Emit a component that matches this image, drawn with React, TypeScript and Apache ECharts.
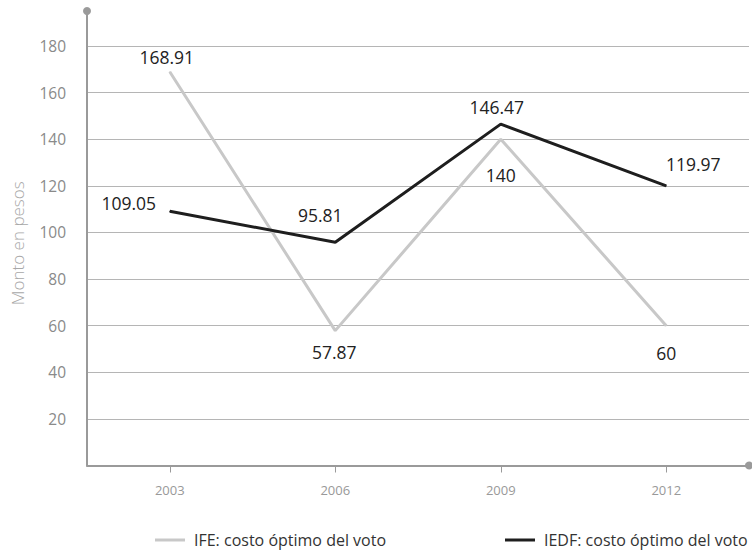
import React, { useEffect, useRef } from "react";
import * as echarts from "echarts";

const years = ["2003", "2006", "2009", "2012"];
const ifeValues = [168.91, 57.87, 140, 60];
const iedfValues = [109.05, 95.81, 146.47, 119.97];
const ifeLabelOffsets = [[-3, -15], [-1, 21], [0, 36], [0, 27]];
const iedfLabelOffsets = [[-41, -8], [-15, -27], [-4, -17], [27, -22]];
const seriesNames = ["IFE: costo óptimo del voto", "IEDF: costo óptimo del voto"];

const FONT = "'Open Sans', 'Noto Sans', sans-serif";

export default function App() {
  const ref = useRef<HTMLDivElement>(null);
  useEffect(() => {
    if (!ref.current) return;
    const chart = echarts.init(ref.current, undefined, { renderer: "svg" });
    const mk = (vals: number[], offs: number[][]) =>
      vals.map((v, i) => ({
        value: v,
        label: { offset: offs[i] },
      }));
    const labelStyle = {
      show: true,
      position: "inside",
      color: "#222",
      fontSize: 17.5,
      fontFamily: FONT,
      formatter: (p: any) => String(p.value),
    };
    const legendBase = {
      bottom: 1,
      icon: "rect",
      itemWidth: 30,
      itemHeight: 3,
      width: 400,
      textStyle: { color: "#333", fontSize: 16, fontFamily: FONT, padding: [0, 0, 0, 4] },
    };
    chart.setOption({
      animation: false,
      textStyle: { fontFamily: FONT },
      grid: { left: 87, top: 11, width: 662, height: 454.5, containLabel: false },
      legend: [
        { ...legendBase, left: 150, data: [seriesNames[0]] },
        { ...legendBase, left: 500, data: [seriesNames[1]] },
      ],
      xAxis: {
        type: "category",
        data: years,
        boundaryGap: true,
        axisLine: {
          show: true,
          symbol: ["none", "circle"],
          symbolSize: [8, 8],
          lineStyle: { color: "#9a9a9a", width: 2 },
        },
        axisTick: { show: true, alignWithLabel: true, length: 7, lineStyle: { color: "#9a9a9a" } },
        axisLabel: { color: "#999", fontSize: 13, margin: 18, fontFamily: FONT },
        splitLine: { show: false },
      },
      yAxis: {
        type: "value",
        min: 0,
        max: 195,
        interval: 20,
        name: "Monto en pesos",
        nameLocation: "middle",
        nameGap: 61,
        nameTextStyle: {
          color: "#a8a8a8",
          fontSize: 17,
          fontWeight: 300,
          fontFamily: FONT,
          padding: [0, 10, 0, 0],
        },
        axisLine: {
          show: true,
          symbol: ["none", "circle"],
          symbolSize: [8, 8],
          lineStyle: { color: "#9a9a9a", width: 2 },
        },
        axisTick: { show: false },
        axisLabel: {
          color: "#8a8a8a",
          fontSize: 15.5,
          margin: 21,
          showMinLabel: false,
          showMaxLabel: false,
          fontFamily: FONT,
        },
        splitLine: {
          show: true,
          showMinLine: false,
          showMaxLine: false,
          lineStyle: { color: "#b5b5b5", width: 1 },
        },
      },
      series: [
        {
          name: seriesNames[0],
          type: "line",
          data: mk(ifeValues, ifeLabelOffsets),
          symbol: "circle",
          symbolSize: 1,
          showSymbol: true,
          itemStyle: { color: "#c8c8c8" },
          lineStyle: { color: "#c8c8c8", width: 3 },
          label: labelStyle,
          z: 2,
        },
        {
          name: seriesNames[1],
          type: "line",
          data: mk(iedfValues, iedfLabelOffsets),
          symbol: "circle",
          symbolSize: 1,
          showSymbol: true,
          itemStyle: { color: "#1e1e1e" },
          lineStyle: { color: "#1e1e1e", width: 3 },
          label: labelStyle,
          z: 3,
        },
      ],
    });
    return () => chart.dispose();
  }, []);
  return (
    <div
      ref={ref}
      style={{ position: "fixed", left: 0, top: 0, width: 752, height: 554, background: "#fff" }}
    />
  );
}
